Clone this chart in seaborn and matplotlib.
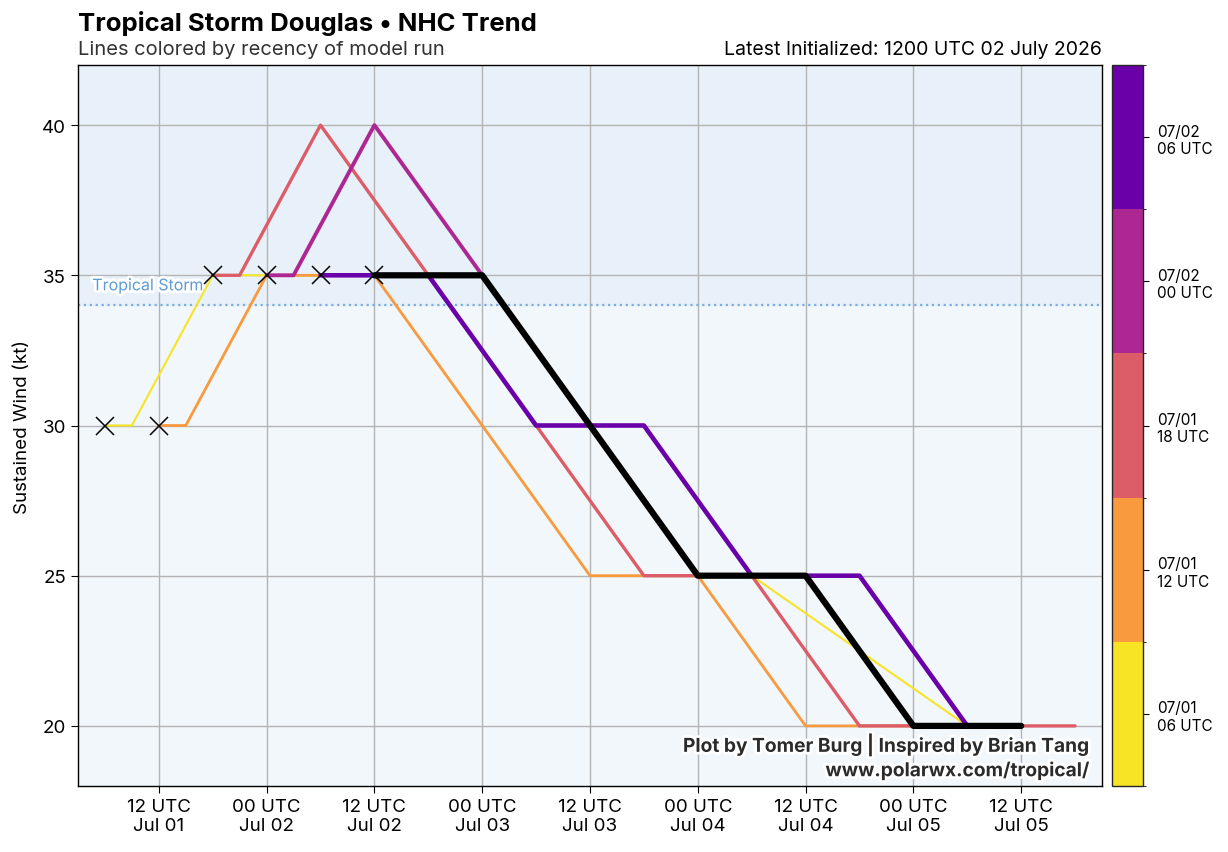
import numpy as np
import pandas as pd
import matplotlib
matplotlib.use('Agg')
import matplotlib.pyplot as plt
import matplotlib.dates as mdates
import matplotlib.patheffects as pe
from matplotlib.colors import ListedColormap, BoundaryNorm
from matplotlib.cm import ScalarMappable
import seaborn as sns

# forecast hours used by every NHC advisory
fhours = [0, 3, 12, 24, 36, 48, 60, 72, 96]

# model runs, oldest first
run_inits = ['2026-07-01 06:00', '2026-07-01 12:00', '2026-07-01 18:00',
             '2026-07-02 00:00', '2026-07-02 06:00', '2026-07-02 12:00']
run_labels = ['07/01\n06 UTC', '07/01\n12 UTC', '07/01\n18 UTC',
              '07/02\n00 UTC', '07/02\n06 UTC']

# sustained wind (kt) for each run
wind_0106 = [30, 30, 35, 35, 35, 30, 25, 25, 20]
wind_0112 = [30, 30, 35, 35, 30, 25, 25, 20, 20]
wind_0118 = [35, 35, 40, 35, 30, 25, 25, 20, 20]
wind_0200 = [35, 35, 40, 35, 30, 25, 25, 20]
wind_0206 = [35, 35, 35, 30, 30, 25, 25, 20]
wind_0212 = [35, 35, 35, 30, 25, 25, 20, 20]
all_winds = [wind_0106, wind_0112, wind_0118, wind_0200, wind_0206, wind_0212]

ts_threshold = 34

#build long table
rows = []
for init, winds in zip(run_inits, all_winds):
    t0 = pd.Timestamp(init)
    for h, w in zip(fhours, winds):
        rows.append({'run': init, 'time': t0 + pd.Timedelta(hours=h), 'wind': w})
df = pd.DataFrame(rows)

sns.set_style('ticks')
plt.rcParams['font.family'] = ['Inter', 'DejaVu Sans']
plt.rcParams['text.color'] = 'black'
plt.rcParams['axes.labelcolor'] = 'black'
plt.rcParams['xtick.color'] = 'black'
plt.rcParams['ytick.color'] = 'black'

fig = plt.figure(figsize=(12.28, 8.53), dpi=100)
ax = fig.add_axes([0.0635, 0.0774, 0.8339, 0.8452])
ax.set_facecolor('#f2f7fb')
ax.axhspan(ts_threshold, 50, color='#e8f1f9', zorder=0)

colors = [plt.cm.plasma(v) for v in np.linspace(0.2, 0.95, 5)][::-1] + ['black']
widths = [1.5, 2.0, 2.4, 2.8, 3.3, 4.5]

for i, init in enumerate(run_inits):
    sub = df[df['run'] == init]
    sns.lineplot(data=sub, x='time', y='wind', color=colors[i], linewidth=widths[i],
                 ax=ax, zorder=3 + i, legend=False)

# initial points
first = df.groupby('run').first().reset_index()
ax.plot(first['time'], first['wind'], linestyle='none', marker='x', color='black',
        markersize=13, markeredgewidth=1.1, zorder=20)

ax.axhline(ts_threshold, color='#7aafdf', linestyle=':', linewidth=1.6, zorder=2)
ax.text(0.014, ts_threshold + 0.4, 'Tropical Storm', transform=ax.get_yaxis_transform(),
        color='#5b9bd8', fontsize=11.5, va='bottom', ha='left', zorder=2,
        path_effects=[pe.withStroke(linewidth=4, foreground='white')])

ax.set_xlim(pd.Timestamp('2026-07-01 03:00'), pd.Timestamp('2026-07-05 21:00'))
ax.set_ylim(18, 42)
ax.set_yticks([20, 25, 30, 35, 40])
ax.xaxis.set_major_locator(mdates.HourLocator(byhour=[0, 12]))
ax.xaxis.set_major_formatter(mdates.DateFormatter('%H UTC\n%b %d'))
ax.grid(True, color='#b4b4b4', linewidth=1, zorder=1)
ax.set_axisbelow(True)
ax.tick_params(axis='both', labelsize=13.5, length=5, color='black')
ax.set_xlabel('')
ax.set_ylabel('Sustained Wind (kt)', fontsize=13.5, labelpad=8)
for s in ax.spines.values():
    s.set_color('black')
    s.set_linewidth(1)

ax.text(0.0, 1.041, 'Tropical Storm Douglas \u2022 NHC Trend', transform=ax.transAxes,
        fontsize=18.5, fontweight='bold', ha='left', va='bottom')
ax.text(0.0, 1.01, 'Lines colored by recency of model run', transform=ax.transAxes,
        fontsize=14.5, color='#333333', ha='left', va='bottom')
ax.text(1.0, 1.01, 'Latest Initialized: 1200 UTC 02 July 2026', transform=ax.transAxes,
        fontsize=14, ha='right', va='bottom')

ax.text(0.988, 0.008, 'Plot by Tomer Burg | Inspired by Brian Tang\nwww.polarwx.com/tropical/',
        transform=ax.transAxes, fontsize=13.8, fontweight='bold', color='#2b2b2b',
        ha='right', va='bottom', linespacing=1.25, zorder=30,
        path_effects=[pe.withStroke(linewidth=4, foreground='white')])

# colorbar of older runs
cmap = ListedColormap(colors[:5])
norm = BoundaryNorm(np.arange(6), 5)
cax = fig.add_axes([0.9055, 0.0774, 0.0253, 0.8452])
cb = fig.colorbar(ScalarMappable(norm=norm, cmap=cmap), cax=cax, ticks=np.arange(5) + 0.5)
cb.ax.set_yticklabels(run_labels)
cb.ax.tick_params(labelsize=11, length=4, pad=6)
cb.outline.set_linewidth(1)

plt.savefig('out.png', dpi=100)
